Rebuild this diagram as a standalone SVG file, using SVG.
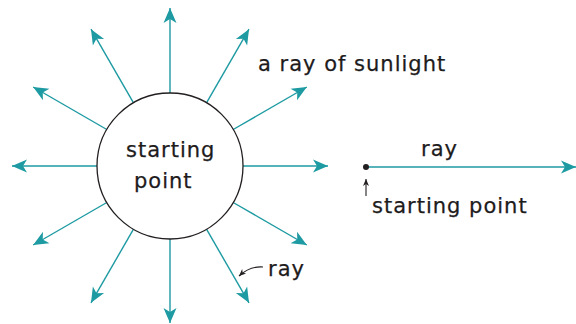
<svg xmlns="http://www.w3.org/2000/svg" width="576" height="324" viewBox="0 0 576 324">
<defs>
<marker id="tealhead" markerUnits="userSpaceOnUse" markerWidth="20" markerHeight="16" viewBox="-16 -8 18 16" refX="0" refY="0" orient="auto">
<path d="M0,0 L-15,-6.5 L-11,0 L-15,6.5 Z" fill="#1d9aa2"/>
</marker>
<marker id="blackhead" markerUnits="userSpaceOnUse" markerWidth="10" markerHeight="8" viewBox="-8 -4 9 8" refX="0" refY="0" orient="auto">
<path d="M0,0 L-7,-3 L-5,0 L-7,3 Z" fill="#231f20"/>
</marker>
<style>
.ray{stroke:#1d9aa2;stroke-width:1.4;fill:none;marker-end:url(#tealhead)}
.ptr{stroke:#231f20;stroke-width:1.1;fill:none;marker-end:url(#blackhead)}
text{font-family:"DejaVu Sans","Liberation Sans",sans-serif;font-size:21px;letter-spacing:1px;fill:#1e1b1c;stroke:#1e1b1c;stroke-width:0.25}
</style>
</defs>
<g id="connectors">
<line class="ray" x1="243" y1="166" x2="328" y2="166"/>
<line class="ray" x1="233.2" y1="202.5" x2="306.8" y2="245"/>
<line class="ray" x1="206.5" y1="229.2" x2="249" y2="302.8"/>
<line class="ray" x1="170" y1="239" x2="170" y2="323"/>
<line class="ray" x1="133.5" y1="229.2" x2="91" y2="302.8"/>
<line class="ray" x1="106.8" y1="202.5" x2="33.2" y2="245"/>
<line class="ray" x1="97" y1="166" x2="12" y2="166"/>
<line class="ray" x1="106.8" y1="129.5" x2="33.2" y2="87"/>
<line class="ray" x1="133.5" y1="102.8" x2="91" y2="29.2"/>
<line class="ray" x1="170" y1="93" x2="170" y2="8"/>
<line class="ray" x1="206.5" y1="102.8" x2="249" y2="29.2"/>
<line class="ray" x1="233.2" y1="129.5" x2="306.8" y2="87"/>
<line class="ray" x1="366" y1="167" x2="576" y2="167"/>
<line class="ptr" x1="188" y1="198" x2="203" y2="222"/>
<path class="ptr" d="M263,267 Q250,266 239,276"/>
<line class="ptr" x1="366" y1="196" x2="366" y2="179"/>
</g>
<g id="sun">
<circle cx="170" cy="166" r="73" fill="#ffffff" stroke="#231f20" stroke-width="1.3"/>
<text x="126" y="157">starting</text>
<text x="134" y="188">point</text>
</g>
<g id="sunlight-label"><text x="258" y="71">a ray of sunlight</text></g>
<g id="ray-label"><text x="268" y="276">ray</text></g>
<g id="line-ray">
<circle cx="366" cy="167" r="3" fill="#231f20"/>
<text x="421" y="156">ray</text>
<text x="372" y="213">starting point</text>
</g>
</svg>
